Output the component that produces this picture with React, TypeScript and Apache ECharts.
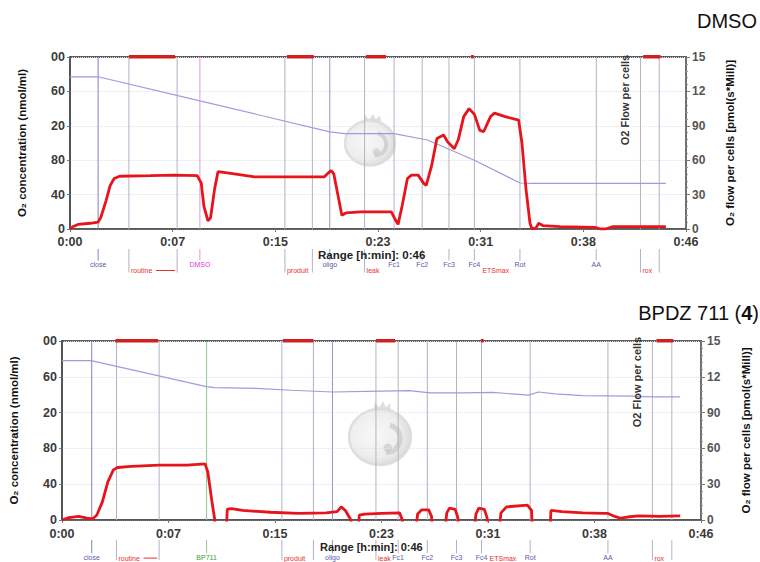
import React, { useEffect, useRef } from 'react';
import * as echarts from 'echarts';

// ---------- tick labels (as printed, cropped at the edges in the source) ----------
const timeTickLabels = ['0:00', '0:07', '0:15', '0:23', '0:31', '0:38', '0:46'];
const o2TickLabels = ['0', '40', '80', '20', '60', '00'];
const flowTickLabels = ['0', '30', '60', '90', '12', '15'];

// ---------- DMSO panel ----------
const dmsoFlow: [number, number][] = [
  [0, 0], [0.2, 2], [0.6, 4], [1.5, 5], [2.1, 6], [2.3, 10], [2.7, 25], [3.0, 38], [3.3, 44], [3.7, 46],
  [6.0, 46.5], [7.8, 47], [9.5, 46.5], [9.8, 40], [10.0, 20], [10.3, 7], [10.5, 10], [10.8, 35], [11.05, 50],
  [12.0, 48.5], [13.8, 45.5], [16.4, 45.5], [19.0, 45.5], [19.3, 49], [19.5, 51], [19.7, 48], [20.0, 30],
  [20.3, 12], [20.6, 14], [21.7, 15], [24.0, 15], [24.3, 8], [24.5, 4], [24.8, 20], [25.2, 44], [25.5, 47],
  [26.0, 47], [26.4, 40], [26.6, 38], [27.0, 55], [27.4, 79], [27.9, 82], [28.2, 76], [28.7, 70], [29.0, 78],
  [29.4, 98], [29.8, 105], [30.2, 100], [30.6, 86], [30.9, 85], [31.4, 98], [31.7, 101], [32.5, 98],
  [33.5, 95], [33.75, 75], [34.05, 35], [34.35, 5], [34.5, 0], [34.8, 1], [35.0, 5], [35.3, 3], [36.6, 2],
  [39.2, 1.5], [39.6, 0], [40.0, 0], [40.5, 2], [42.6, 2], [44.5, 2],
];
const dmsoConc: [number, number][] = [
  [0, 177], [2.1, 177], [9.7, 149], [19.4, 113], [20.5, 111], [24.2, 111], [26.7, 103.5], [30.2, 80],
  [33.6, 53.5], [34.5, 53], [44.5, 53],
];
const dmsoEventTimes = [2.1, 4.4, 8.0, 9.7, 16.05, 18.1, 19.4, 22.0, 24.2, 26.3, 28.3, 30.2, 30.2, 33.6, 39.3, 42.6, 44.0];
const dmsoEventNames = ['close', 'routine', '', 'DMSO', 'produit', '', 'oligo', 'leak', 'Fc1', 'Fc2', 'Fc3', 'ETSmax', 'Fc4', 'Rot', 'AA', 'rox', ''];
const dmsoWindows: [number, number][] = [[4.4, 7.84], [16.2, 18.2], [22.1, 23.6], [29.95, 30.15], [42.8, 44.1]];

// ---------- BPDZ 711 panel ----------
const bpdzFlow: [number, number][] = [
  [0, 0], [0.5, 2], [1.2, 3], [1.8, 1.5], [2.2, 1], [2.5, 4], [2.9, 15], [3.3, 32], [3.7, 42], [4.0, 44],
  [5.0, 45], [7.0, 46], [9.0, 46], [10.3, 47], [10.5, 40], [10.8, 15], [11.0, 0], [11.1, -15], [11.8, -15],
  [11.9, 9], [12.2, 9.5], [13.0, 8], [15.0, 6.5], [17.0, 5.5], [19.0, 6], [19.8, 7], [20.1, 11], [20.4, 8],
  [20.8, 0], [20.9, -15], [21.3, -15], [21.4, 4], [21.8, 5], [23.0, 5.5], [24.3, 6], [24.5, 0], [24.6, -15],
  [25.4, -15], [25.6, 5], [25.9, 8.5], [26.4, 8.5], [26.6, 3], [26.7, -15], [27.5, -15], [27.7, 6], [27.9, 10],
  [28.3, 9], [28.5, 2], [28.6, -15], [29.6, -15], [29.8, 5], [30.0, 10], [30.4, 9], [30.6, 2], [30.7, -15],
  [31.4, -15], [31.6, 6], [32.0, 11], [33.5, 12.5], [33.8, 8], [33.9, -15], [35.1, -15], [35.2, 8], [36.0, 7],
  [37.5, 6], [39.0, 5.5], [39.3, 5.5], [39.8, 3], [40.2, 1.5], [40.7, 2.5], [41.5, 3.5], [43.0, 3], [44.5, 3.5],
];
const bpdzConc: [number, number][] = [
  [0, 178], [2.1, 178], [10.4, 149], [11.0, 148], [14.0, 147], [16.5, 145], [19.5, 143], [23.0, 144],
  [25.0, 144.5], [26.5, 142], [29.0, 142], [31.0, 142.5], [33.6, 139.5], [34.3, 143], [35.5, 141],
  [37.5, 139], [41.0, 138.5], [42.5, 137.5], [44.5, 137.5],
];
const bpdzEventTimes = [2.14, 3.92, 6.99, 10.41, 15.83, 18.1, 19.47, 22.6, 24.2, 26.3, 28.4, 30.2, 30.2, 33.7, 39.3, 42.5, 43.9];
const bpdzEventNames = ['close', 'routine', '', 'BP711', 'produit', '', 'oligo', 'leak', 'Fc1', 'Fc2', 'Fc3', 'ETSmax', 'Fc4', 'Rot', 'AA', 'rox', ''];
const bpdzWindows: [number, number][] = [[3.85, 6.92], [15.9, 18.1], [22.6, 23.97], [30.15, 30.35], [42.8, 44.0]];

// ---------- layout ----------
const panels = [
  {
    flow: dmsoFlow, conc: dmsoConc, times: dmsoEventTimes, names: dmsoEventNames, windows: dmsoWindows,
    grid: { left: 70, top: 57, width: 616, height: 172 }, row1: 35.5, row2: 41.5, xMargin: 6,
    rangeY: 254.5, rangeFont: 11.5,
  },
  {
    flow: bpdzFlow, conc: bpdzConc, times: bpdzEventTimes, names: bpdzEventNames, windows: bpdzWindows,
    grid: { left: 58, top: 341, width: 645, height: 179 }, row1: 37.3, row2: 38.1, xMargin: 7,
    rangeY: 547.2, rangeFont: 11,
  },
];

const row1Names = ['close', 'DMSO', 'BP711', 'oligo', 'Fc1', 'Fc2', 'Fc3', 'Fc4', 'Rot', 'AA'];
function eventLook(name: string) {
  if (name === 'close') return { line: '#8080c0', text: '#5a5aa8', row: 1 };
  if (name === 'DMSO') return { line: '#e296e2', text: '#e040d8', row: 1 };
  if (name === 'BP711') return { line: '#90c490', text: '#3c9c3c', row: 1 };
  if (name === 'oligo') return { line: '#9696c8', text: '#5a5aa8', row: 1 };
  if (row1Names.includes(name)) return { line: '#b2b2c6', text: '#5a5aa8', row: 1 };
  if (name === '') return { line: '#b2b2c6', text: '', row: 2 };
  return { line: '#b2b2c6', text: '#e83030', row: 2 };
}

const FONT = '"Liberation Sans", Arial, sans-serif';

export default function App() {
  const ref = useRef<HTMLDivElement>(null);
  useEffect(() => {
    if (!ref.current) return;
    const chart = echarts.init(ref.current, undefined, { renderer: 'svg' });

    const grids: any[] = [];
    const xAxes: any[] = [];
    const yAxes: any[] = [];
    const series: any[] = [];
    const graphic: any[] = [];

    panels.forEach((p, i) => {
      grids.push({ ...p.grid, show: true, borderColor: '#5c5c5c', borderWidth: 2, backgroundColor: 'transparent' });
      xAxes.push({
        type: 'value', gridIndex: i, min: 0, max: 46, interval: 46 / 6,
        axisLine: { lineStyle: { color: '#555', width: 1.5 } },
        axisTick: { show: true, length: 3, lineStyle: { color: '#777' } },
        splitLine: { show: false },
        axisLabel: {
          margin: p.xMargin, color: '#3a3a3a', fontWeight: 'bold', fontSize: 12.5, fontFamily: FONT,
          formatter: (v: number) => timeTickLabels[Math.round(v / (46 / 6))] ?? '',
        },
      });
      yAxes.push({
        type: 'value', gridIndex: i, min: 0, max: 200, interval: 40, position: 'left',
        name: 'O₂ concentration (nmol/ml)', nameLocation: 'middle', nameRotate: 90,
        nameGap: 42,
        nameTextStyle: { color: '#111', fontWeight: 'bold', fontSize: 11.5, fontFamily: FONT },
        axisLine: { show: true, lineStyle: { color: '#555', width: 2 } },
        axisTick: { show: true, length: 3, lineStyle: { color: '#777' } },
        splitLine: { show: true, lineStyle: { color: '#e2e2ea', type: 'dotted', width: 1 } },
        axisLabel: {
          margin: 5, color: '#3a3a3a', fontWeight: 'bold', fontSize: 12.5, fontFamily: FONT,
          formatter: (v: number) => o2TickLabels[Math.round(v / 40)] ?? '',
        },
      });
      yAxes.push({
        type: 'value', gridIndex: i, min: 0, max: 150, interval: 30, position: 'right',
        name: 'O₂ flow per cells [pmol(s*Mill)]', nameLocation: 'middle', nameRotate: 90,
        nameGap: i === 0 ? 38 : 39,
        nameTextStyle: { color: '#111', fontWeight: 'bold', fontSize: 11.5, fontFamily: FONT },
        axisLine: { show: true, lineStyle: { color: '#777', width: 1.5 } },
        axisTick: { show: true, length: 4, lineStyle: { color: '#777' } },
        minorTick: { show: true, splitNumber: 5, length: 2, lineStyle: { color: '#999' } },
        splitLine: { show: false },
        axisLabel: {
          margin: 6, color: '#555', fontWeight: 'bold', fontSize: 12, fontFamily: FONT,
          formatter: (v: number) => flowTickLabels[Math.round(v / 30)] ?? '',
        },
      });

      const times = p.times;
      const names = p.names;
      const row1 = p.row1;
      const row2 = p.row2;

      // event marker lines and labels
      series.push({
        type: 'custom', xAxisIndex: i, yAxisIndex: 2 * i, z: 1, silent: true, clip: false,
        encode: { x: 0, y: 1 },
        data: times.map((t) => [t, 0]),
        renderItem: (params: any, api: any) => {
          const idx = params.dataIndex;
          const t = api.value(0);
          const top = api.coord([t, 200]);
          const bot = api.coord([t, 0]);
          const name = names[idx];
          const look = eventLook(name);
          const children: any[] = [];
          if (name !== 'ETSmax') {
            children.push({
              type: 'line', shape: { x1: top[0], y1: top[1], x2: bot[0], y2: bot[1] },
              style: { stroke: look.line, lineWidth: 1 },
            });
            const tickEnd = look.row === 1 ? bot[1] + row1 - 4 : bot[1] + row2 + 2;
            children.push({
              type: 'line', shape: { x1: bot[0], y1: bot[1] + 20, x2: bot[0], y2: tickEnd },
              style: { stroke: look.line, lineWidth: 1 },
            });
          }
          if (name) {
            const isRow1 = look.row === 1;
            const dx = isRow1 ? 0 : name === 'ETSmax' ? 8 : 2;
            children.push({
              type: 'text', x: bot[0] + dx, y: bot[1] + (isRow1 ? row1 : row2),
              style: {
                text: name, fill: look.text, font: `7px ${FONT}`,
                align: isRow1 ? 'center' : 'left', verticalAlign: 'middle',
              },
            });
            if (name === 'routine' && idx + 1 < times.length) {
              const nx = api.coord([times[idx + 1], 0])[0];
              children.push({
                type: 'line', shape: { x1: bot[0] + 27, y1: bot[1] + row2, x2: nx - 2, y2: bot[1] + row2 },
                style: { stroke: '#e83030', lineWidth: 1 },
              });
            }
          }
          return { type: 'group', children };
        },
      });

      // red window bars on top edge
      series.push({
        type: 'custom', xAxisIndex: i, yAxisIndex: 2 * i, z: 6, silent: true, clip: false,
        encode: { x: [0, 1], y: 2 },
        data: p.windows.map((w) => [w[0], w[1], 200]),
        renderItem: (params: any, api: any) => {
          const a = api.coord([api.value(0), 200]);
          const b = api.coord([api.value(1), 200]);
          return {
            type: 'rect', shape: { x: a[0], y: a[1] - 2, width: Math.max(b[0] - a[0], 2), height: 3.5 },
            style: { fill: '#d02020' },
          };
        },
      });

      series.push({
        type: 'line', xAxisIndex: i, yAxisIndex: 2 * i, data: p.conc, showSymbol: false, z: 3,
        lineStyle: { color: '#9e9cdc', width: 1.2 }, silent: true,
      });
      series.push({
        type: 'line', xAxisIndex: i, yAxisIndex: 2 * i + 1, data: p.flow, showSymbol: false, z: 5,
        lineStyle: { color: '#e8141c', width: 2.8 }, silent: true,
      });

      graphic.push({
        type: 'text', x: i === 0 ? 318 : 320, y: p.rangeY, z: 10,
        style: {
          text: 'Range [h:min]: 0:46', fill: '#222', font: `bold ${p.rangeFont}px ${FONT}`,
          align: 'left', verticalAlign: 'middle',
        },
      });
    });

    const watermark = (cx: number, cy: number, r: number) => ({
      type: 'group', x: cx, y: cy, z: 0, silent: true,
      children: [
        {
          type: 'polygon',
          shape: { points: [[-7, -r * 0.85], [-5, -r * 1.12], [-1, -r * 0.95], [3, -r * 1.15], [6, -r * 0.95], [10, -r * 1.1], [11, -r * 0.82]] },
          style: { fill: '#d6d6d6', opacity: 0.8 },
        },
        {
          type: 'ellipse', shape: { cx: 0, cy: 0, rx: r, ry: r * 0.9 },
          style: {
            fill: new echarts.graphic.RadialGradient(0.42, 0.45, 0.62, [
              { offset: 0, color: '#f6f6f6' }, { offset: 0.65, color: '#ebebeb' }, { offset: 1, color: '#d2d2d2' },
            ]),
            stroke: '#dadada', lineWidth: 2.5, opacity: 0.85,
          },
        },
        {
          type: 'arc', shape: { cx: r * 0.2, cy: r * 0.05, r: r * 0.45, startAngle: -1.3, endAngle: 1.6 },
          style: { stroke: '#c8c8c8', lineWidth: r * 0.16, fill: 'none', opacity: 0.7 },
        },
        { type: 'circle', shape: { cx: r * 0.25, cy: r * 0.35, r: r * 0.14 }, style: { fill: '#cacaca', opacity: 0.7 } },
      ],
    });

    graphic.push(
      watermark(370, 143, 25),
      watermark(380, 437, 31),
      {
        type: 'text', x: 757, y: 21, z: 10,
        style: { text: 'DMSO', fill: '#111', font: `20px ${FONT}`, align: 'right', verticalAlign: 'middle' },
      },
      {
        type: 'text', x: 759, y: 313, z: 10,
        style: {
          text: 'BPDZ 711 ({b|4})', fill: '#111', font: `20px ${FONT}`, align: 'right', verticalAlign: 'middle',
          rich: { b: { fontWeight: 'bold', fontSize: 20, fontFamily: FONT, fill: '#111' } },
        },
      },
      {
        type: 'text', x: 625, y: 100, rotation: Math.PI / 2, z: 10,
        style: { text: 'O2 Flow per cells', fill: '#333', font: `bold 11px ${FONT}`, align: 'center', verticalAlign: 'middle' },
      },
      {
        type: 'text', x: 637, y: 382, rotation: Math.PI / 2, z: 10,
        style: { text: 'O2 Flow per cells', fill: '#333', font: `bold 11px ${FONT}`, align: 'center', verticalAlign: 'middle' },
      },
    );

    chart.setOption({
      animation: false,
      backgroundColor: '#ffffff',
      grid: grids,
      xAxis: xAxes,
      yAxis: yAxes,
      series,
      graphic,
    });
    return () => chart.dispose();
  }, []);

  return (
    <div
      ref={ref}
      style={{ position: 'absolute', left: 0, top: 0, width: 760, height: 562, background: '#fff' }}
    />
  );
}
